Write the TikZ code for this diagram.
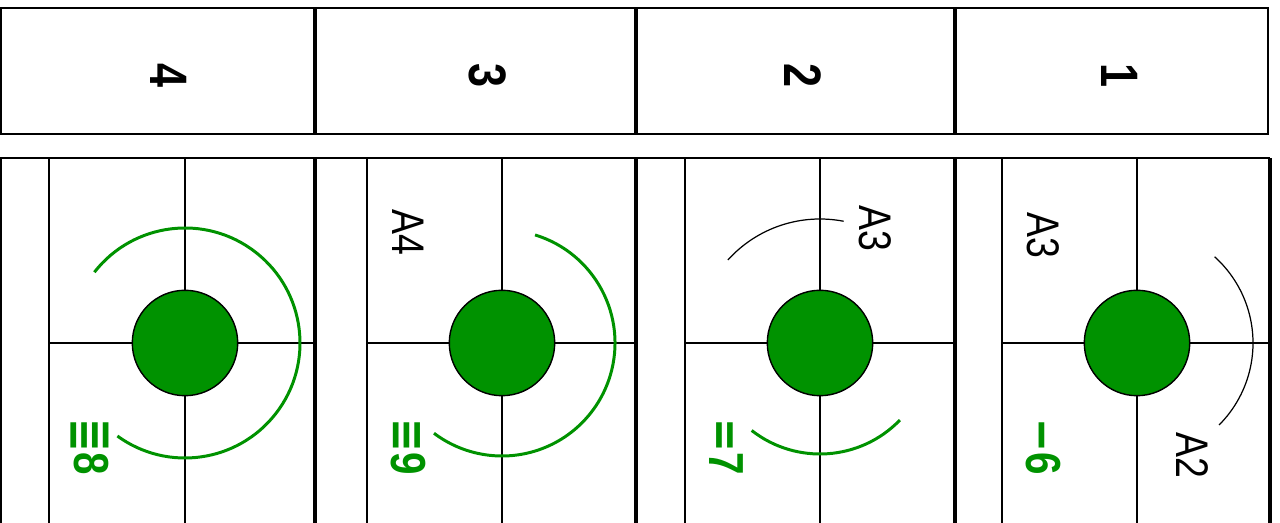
\documentclass[tikz,border=0pt]{standalone}
\usepackage{fontspec}
\setmainfont{Liberation Sans}
\newfontfamily\barfont{DejaVu Sans}
\usetikzlibrary{positioning}
\definecolor{rowgreen}{RGB}{0,146,0}
\newcommand{\squeeze}[1]{\scalebox{0.82}[1]{#1}}

\begin{document}
\begin{tikzpicture}[x=0.02cm, y=0.02cm,
    frame/.style={line width=1.4pt},
    divider/.style={line width=2.8pt},
    gridline/.style={line width=0.8pt},
    greenarc/.style={line width=1.7pt, draw=rowgreen},
    thinarc/.style={line width=0.7pt},
    headnum/.style={rotate=-90, inner sep=0pt, font=\bfseries\fontsize{30}{32}\selectfont},
    posname/.style={rotate=-90, inner sep=0pt, font=\fontsize{26}{28}\selectfont},
    fingering/.style={rotate=-90, inner sep=0pt, text=rowgreen, font=\bfseries\fontsize{28}{30}\selectfont},
    ball/.style={circle, draw=black, line width=0.8pt, fill=rowgreen, minimum size=60pt, inner sep=0pt}
  ]
  \useasboundingbox (0,0) rectangle (1280,523);

  % header row
  \draw[frame] (1,389) rectangle (1268,515);
  \foreach \px in {315,636,955}
    \draw[divider] (\px,389) -- (\px,515);
  \node[headnum] (head4) at (169,447) {\squeeze{4}};
  \node[headnum] (head3) at (488,447) {\squeeze{3}};
  \node[headnum] (head2) at (803,447) {\squeeze{2}};
  \node[headnum] (head1) at (1120,447) {\squeeze{1}};

  % lower panels
  \draw[frame] (1,0) -- (1,365) -- (1270,365);
  \foreach \px in {315,636,955,1270}
    \draw[divider] (\px,0) -- (\px,365);
  \foreach \lx/\cx/\rx in {49/185/315, 367/502/636, 685/820/955, 1002/1137/1270} {
    \draw[gridline] (\lx,0) -- (\lx,365);
    \draw[gridline] (\cx,0) -- (\cx,365);
    \draw[gridline] (\lx,180) -- (\rx,180);
  }

  \node[ball] (ball4) at (185,180) {};
  \node[ball] (ball3) at (502,180) {};
  \node[ball] (ball2) at (820,180) {};
  \node[ball] (ball1) at (1137,180) {};

  % arcs
  \draw[greenarc] (ball4.center) ++(142:115) arc[start angle=142, end angle=-126, radius=115];
  \draw[greenarc] (ball3.center) ++(73:113) arc[start angle=73, end angle=-127, radius=113];
  \draw[greenarc] (ball2.center) ++(-128:111) arc[start angle=-128, end angle=-44, radius=111];
  \draw[thinarc] (ball2.center) ++(138:124) arc[start angle=138, end angle=79, radius=124];
  \draw[thinarc] (ball1.center) ++(48:116) arc[start angle=48, end angle=-45, radius=116];

  % labels
  \node[posname] (a4three) at (408,291) {\squeeze{A4}};
  \node[posname] (a3two) at (875,295) {\squeeze{A3}};
  \node[posname] (a3one) at (1043,288) {\squeeze{A3}};
  \node[posname] (a2one) at (1192,68) {\squeeze{A2}};

  \node[fingering] (fing4) at (90,76) {\squeeze{{\barfont\bfseries ≣}8}};
  \node[fingering] (fing3) at (408,76) {\squeeze{{\barfont\bfseries ≡}9}};
  \node[fingering] (fing2) at (726,76) {\squeeze{{\barfont\bfseries =}7}};
  \node[fingering] (fing1) at (1043,76) {\squeeze{{\barfont\bfseries −}6}};
\end{tikzpicture}
\end{document}
